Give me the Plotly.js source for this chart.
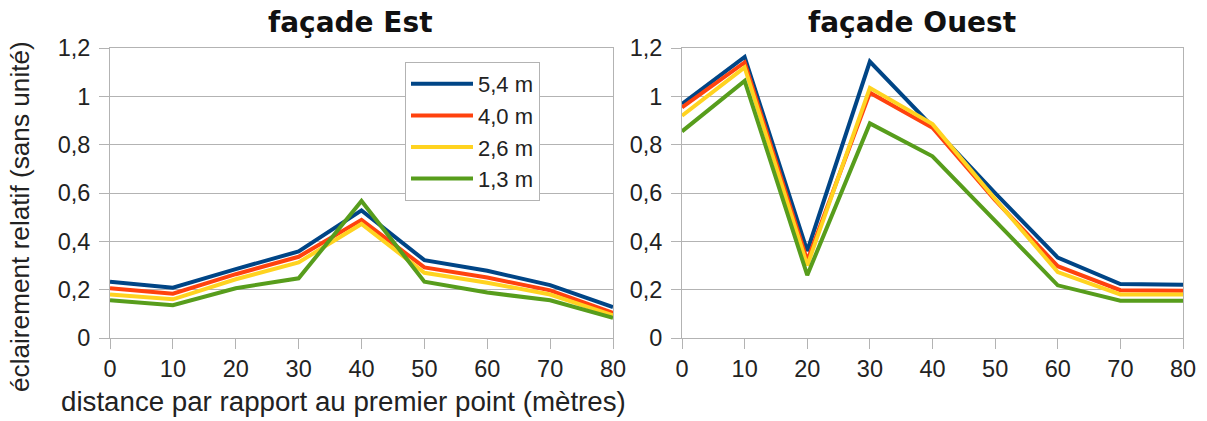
<!DOCTYPE html>
<html>
<head>
<meta charset="utf-8">
<script src="https://cdn.plot.ly/plotly-3.0.1.min.js"></script>
<style>html,body{margin:0;padding:0;background:#fff;}#chart{width:1207px;height:421px;}</style>
</head>
<body>
<div id="chart"></div>
<script>
const distances = [0, 10, 20, 30, 40, 50, 60, 70, 80];
const seriesNames = ["5,4 m", "4,0 m", "2,6 m", "1,3 m"];
const seriesColors = ["#004586", "#ff420e", "#ffd320", "#579d1c"];

const est_54 = [0.233, 0.208, 0.285, 0.358, 0.528, 0.322, 0.278, 0.219, 0.128];
const est_40 = [0.206, 0.183, 0.264, 0.336, 0.489, 0.292, 0.250, 0.197, 0.104];
const est_26 = [0.180, 0.160, 0.243, 0.313, 0.472, 0.270, 0.229, 0.180, 0.094];
const est_13 = [0.156, 0.136, 0.206, 0.247, 0.567, 0.233, 0.188, 0.156, 0.083];

const ouest_54 = [0.968, 1.163, 0.360, 1.144, 0.875, 0.600, 0.333, 0.223, 0.220];
const ouest_40 = [0.954, 1.140, 0.320, 1.015, 0.870, 0.570, 0.297, 0.198, 0.196];
const ouest_26 = [0.920, 1.120, 0.300, 1.035, 0.885, 0.575, 0.273, 0.180, 0.180];
const ouest_13 = [0.855, 1.064, 0.260, 0.888, 0.752, 0.484, 0.218, 0.154, 0.154];

const titleEst = "façade Est";
const titleOuest = "façade Ouest";
const yTitle = "éclairement relatif (sans unité)";
const xTitle = "distance par rapport au premier point (mètres)";

const estSeries = [est_54, est_40, est_26, est_13];
const ouestSeries = [ouest_54, ouest_40, ouest_26, ouest_13];

const traces = [];
estSeries.forEach((ys, i) => traces.push({
  x: distances, y: ys, type: "scatter", mode: "lines", name: seriesNames[i],
  line: {color: seriesColors[i], width: 4}, xaxis: "x", yaxis: "y", legendgroup: "g" + i
}));
ouestSeries.forEach((ys, i) => traces.push({
  x: distances, y: ys, type: "scatter", mode: "lines", name: seriesNames[i],
  line: {color: seriesColors[i], width: 4}, xaxis: "x2", yaxis: "y2", legendgroup: "g" + i, showlegend: false
}));

const W = 1207, H = 421;
const tickFont = {family: "Liberation Sans, Arial, sans-serif", size: 23.5, color: "#222"};
const legFont = {family: "Liberation Sans, Arial, sans-serif", size: 22, color: "#222"};
const gridC = "#b3b3b3";
function xax(dom, anchor) {
  return {domain: dom, anchor: anchor, range: [0, 80], tickmode: "linear", tick0: 0, dtick: 10,
    showgrid: false, zeroline: false, showline: true, linecolor: gridC, linewidth: 1, mirror: true,
    ticks: "outside", ticklen: 10, tickcolor: gridC, tickfont: tickFont, ticklabelstandoff: 0, fixedrange: true};
}
function yax(anchor) {
  return {domain: [(H - 338) / H, (H - 48) / H], anchor: anchor, range: [0, 1.2], tickmode: "linear", tick0: 0, dtick: 0.2,
    showgrid: true, gridcolor: gridC, gridwidth: 1, zeroline: false, showline: true, linecolor: gridC, linewidth: 1, mirror: true,
    ticks: "outside", ticklen: 10, tickcolor: gridC, tickfont: tickFont, ticklabelstandoff: 4, fixedrange: true};
}

const layout = {
  width: W, height: H, margin: {l: 0, r: 0, t: 0, b: 0}, paper_bgcolor: "#fff", plot_bgcolor: "#fff",
  separators: ", ",
  xaxis: xax([110 / W, 613 / W], "y"),
  yaxis: yax("x"),
  xaxis2: xax([682 / W, 1183 / W], "y2"),
  yaxis2: yax("x2"),
  showlegend: true,
  legend: {x: 405 / W, y: (H - 62) / H, xanchor: "left", yanchor: "top", bgcolor: "#fff",
    bordercolor: gridC, borderwidth: 1, font: legFont, tracegroupgap: 0, itemwidth: 62},
  annotations: [
    {text: titleEst, x: 350 / W, y: (H - 23) / H, xref: "paper", yref: "paper", showarrow: false,
      xanchor: "center", yanchor: "middle", font: {family: "DejaVu Sans", size: 28, color: "#111", weight: "bold"}},
    {text: titleOuest, x: 912 / W, y: (H - 23) / H, xref: "paper", yref: "paper", showarrow: false,
      xanchor: "center", yanchor: "middle", font: {family: "DejaVu Sans", size: 28, color: "#111", weight: "bold"}},
    {text: yTitle, x: 20 / W, y: (H - 217) / H, xref: "paper", yref: "paper", showarrow: false, textangle: -90,
      xanchor: "center", yanchor: "middle", font: {family: "Liberation Sans, Arial, sans-serif", size: 26.2, color: "#222"}},
    {text: xTitle, x: 343 / W, y: (H - 401) / H, xref: "paper", yref: "paper", showarrow: false,
      xanchor: "center", yanchor: "middle", font: {family: "Liberation Sans, Arial, sans-serif", size: 27.7, color: "#222"}}
  ]
};

Plotly.newPlot("chart", traces, layout, {displayModeBar: false, staticPlot: true});
</script>
</body>
</html>
